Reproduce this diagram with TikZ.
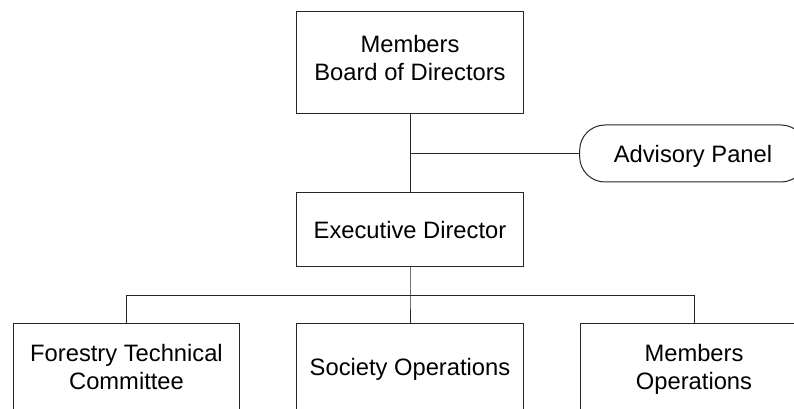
\documentclass[tikz,border=0pt]{standalone}
\usepackage{fontspec}
\setmainfont{Liberation Sans}
\usepackage{tikz}
\usetikzlibrary{positioning}

\begin{document}
\begin{tikzpicture}[x=0.75pt,y=-0.75pt,line width=0.75pt,draw=black!85]
    \tikzstyle{unit}=[rectangle,draw=black!85,align=center,minimum width=170pt,minimum height=64.5pt,text depth=0pt,font=\fontsize{17.8}{20.7}\selectfont]
    \tikzstyle{panel}=[unit,rounded corners=19pt,minimum height=42.75pt]

    \useasboundingbox (0,0) rectangle (794,409);

    % top of the chart
    \node[unit,minimum height=76.5pt,text depth=7.5pt] (b0) at (410,63)  {Members\\Board of Directors};
    \node[unit,minimum height=55.5pt] (b1) at (410,230) {Executive Director};
    \node[panel] (ap) at (693,153.5) {Advisory Panel};

    % bottom row
    \node[unit] (u1) at (126.5,367) {Forestry Technical\\Committee};
    \node[unit] (u2) at (410,367)   {Society Operations};
    \node[unit] (u3) at (694,367)   {Members\\Operations};

    \coordinate (j1) at (410,153.5);
    \coordinate (j2) at (410,296);

    % connectors
    \draw (b0) -- (b1);
    \draw (j1) -- (ap);
    \draw (b1) -- (j2) -- (u2);
    \draw (u1.north) -- (u1.north |- j2) -- (u3.north |- j2) -- (u3.north);
\end{tikzpicture}
\end{document}
